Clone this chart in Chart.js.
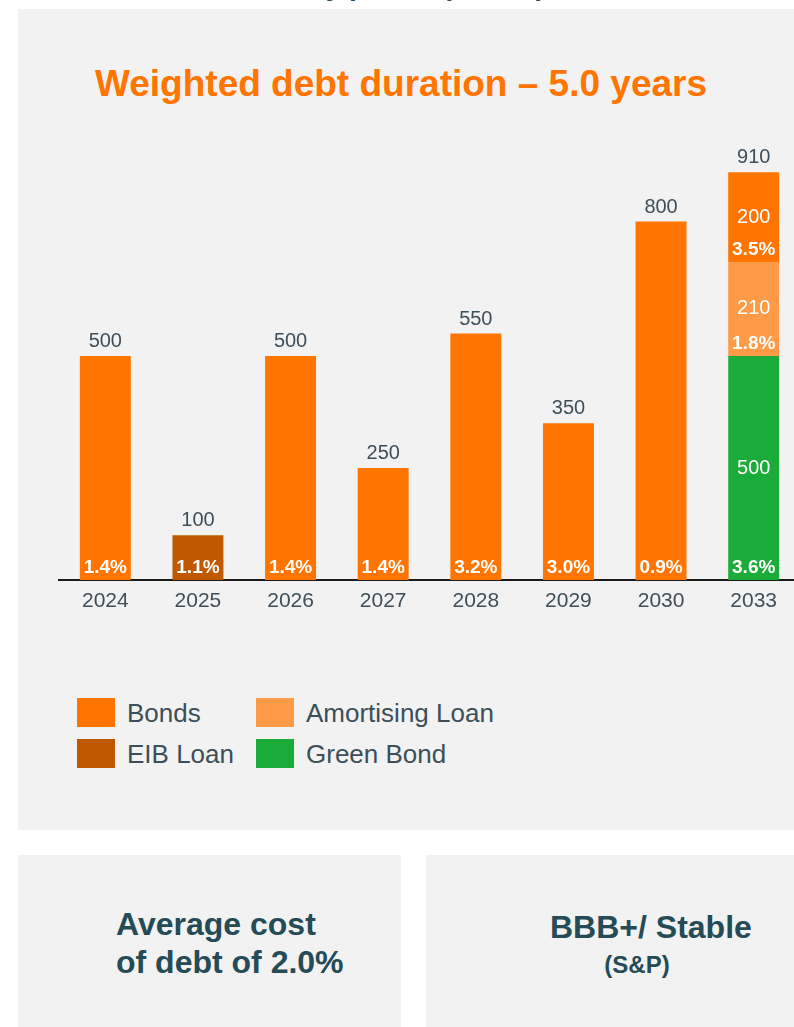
<!DOCTYPE html>
<html>
<head>
<meta charset="utf-8">
<script src="https://cdn.jsdelivr.net/npm/chart.js@4"></script>
<style>
  html, body { margin: 0; padding: 0; }
  body {
    width: 794px; height: 1027px; overflow: hidden; position: relative;
    background: #ffffff; font-family: "Liberation Sans", Arial, sans-serif;
  }
  .heading {
    position: absolute; right: 249px; top: -29px; margin: 0;
    font-size: 28px; line-height: 30px; font-weight: bold; color: #2e4a54; white-space: nowrap;
  }
  .panel { position: absolute; background: #f2f2f2; }
  #mainPanel { left: 18px; top: 9px; width: 800px; height: 821px; }
  #costPanel { left: 18px; top: 855px; width: 383px; height: 190px; }
  #ratingPanel { left: 426px; top: 855px; width: 390px; height: 190px; }
  .title {
    position: absolute; left: 95px; top: 64px; margin: 0; white-space: nowrap;
    font-size: 37px; line-height: 40px; font-weight: bold; color: #ff7500;
  }
  #chartBox { position: absolute; left: 0; top: 110px; width: 810px; height: 518px; }
  #legend {
    position: absolute; left: 77px; top: 698px;
    display: grid; grid-template-columns: 179px auto; row-gap: 12px;
  }
  .legend-item { display: flex; align-items: center; height: 29px; }
  .legend-box { width: 38px; height: 29px; margin-right: 12px; }
  .legend-text { font-size: 26px; line-height: 29px; color: #3c4f58; position: relative; top: 1px; white-space: nowrap; }
  .box-text {
    position: absolute; margin: 0; font-weight: bold; color: #244b56; white-space: nowrap;
  }
  #costText { left: 116px; top: 905px; font-size: 32px; line-height: 38px; }
  #ratingText { left: 550px; top: 908px; width: 200px; text-align: center; font-size: 32px; line-height: 38px; }
  #ratingSub { left: 587px; top: 952px; width: 100px; text-align: center; font-size: 24px; line-height: 26px; }
</style>
</head>
<body>
<p class="heading">Debt maturity profile (EURm)</p>
<div class="panel" id="mainPanel"></div>
<div class="panel" id="costPanel"></div>
<div class="panel" id="ratingPanel"></div>

<p class="title">Weighted debt duration – 5.0 years</p>
<div id="chartBox"><canvas id="maturityChart" width="810" height="518"></canvas></div>
<div id="legend"></div>

<p class="box-text" id="costText">Average cost<br>of debt of 2.0%</p>
<p class="box-text" id="ratingText">BBB+/ Stable</p>
<p class="box-text" id="ratingSub">(S&amp;P)</p>

<script>
// maturities per year, EURm
const years = ['2024', '2025', '2026', '2027', '2028', '2029', '2030', '2033'];
const bonds          = [500, null, 500, 250, 550, 350, 800, 200];
const eibLoan        = [null, 100, null, null, null, null, null, null];
const amortisingLoan = [null, null, null, null, null, null, null, 210];
const greenBond      = [null, null, null, null, null, null, null, 500];

// coupon / interest rate per tranche, %
const bondsRate      = [1.4, null, 1.4, 1.4, 3.2, 3.0, 0.9, 3.5];
const eibRate        = [null, 1.1, null, null, null, null, null, null];
const amortisingRate = [null, null, null, null, null, null, null, 1.8];
const greenRate      = [null, null, null, null, null, null, null, 3.6];

const yMax = 1000;

const COLORS = {
    bonds: '#ff7500',
    eib: '#c05800',
    amortising: '#ff9a46',
    green: '#1bab39',
    label: '#3e4f59'
};

// stacking goes bottom-up in dataset order
const datasets = [
    { label: 'Green Bond', data: greenBond, rates: greenRate, backgroundColor: COLORS.green },
    { label: 'Amortising Loan', data: amortisingLoan, rates: amortisingRate, backgroundColor: COLORS.amortising },
    { label: 'Bonds', data: bonds, rates: bondsRate, backgroundColor: COLORS.bonds },
    { label: 'EIB Loan', data: eibLoan, rates: eibRate, backgroundColor: COLORS.eib }
];
const legendOrder = ['Bonds', 'Amortising Loan', 'EIB Loan', 'Green Bond'];

const FONT = '"Liberation Sans", Arial, sans-serif';

// totals above the stacks, amounts and rates inside the bars
const barLabels = {
    id: 'barLabels',
    afterDatasetsDraw(chart) {
        const ctx = chart.ctx;
        ctx.save();
        ctx.textAlign = 'center';
        years.forEach((year, i) => {
            const parts = [];
            chart.data.datasets.forEach((ds, d) => {
                const v = ds.data[i];
                if (v === null || v === undefined) return;
                parts.push({ value: v, rate: ds.rates[i], bar: chart.getDatasetMeta(d).data[i] });
            });
            if (!parts.length) return;

            const total = parts.reduce((s, p) => s + p.value, 0);
            const top = Math.min(...parts.map(p => p.bar.y));
            const x = parts[0].bar.x;

            ctx.fillStyle = COLORS.label;
            ctx.font = '20px ' + FONT;
            ctx.textBaseline = 'alphabetic';
            ctx.fillText(String(total), x, top - 9);

            parts.forEach(p => {
                ctx.fillStyle = '#ffffff';
                if (parts.length > 1) {
                    ctx.font = '20px ' + FONT;
                    ctx.textBaseline = 'middle';
                    ctx.fillText(String(p.value), x, (p.bar.y + p.bar.base) / 2);
                }
                if (p.rate !== null) {
                    ctx.font = 'bold 19px ' + FONT;
                    ctx.textBaseline = 'alphabetic';
                    ctx.fillText(p.rate.toFixed(1) + '%', x, p.bar.base - 7);
                }
            });
        });
        ctx.restore();
    }
};

const chart = new Chart(document.getElementById('maturityChart'), {
    type: 'bar',
    data: {
        labels: years,
        datasets: datasets.map(ds => ({
            ...ds,
            barPercentage: 0.55,
            categoryPercentage: 1,
            borderWidth: 0
        }))
    },
    options: {
        responsive: false,
        animation: false,
        layout: { padding: { left: 59, right: 10, top: 22, bottom: 0 } },
        plugins: {
            legend: { display: false },
            tooltip: { enabled: false }
        },
        scales: {
            x: {
                stacked: true,
                grid: { display: false, drawTicks: false },
                border: { display: true, color: '#1a1a1a', width: 2 },
                ticks: {
                    color: COLORS.label,
                    padding: 9,
                    font: { family: FONT, size: 21 }
                },
                afterFit(axis) { axis.height = 48; }
            },
            y: {
                stacked: true,
                display: false,
                min: 0,
                max: yMax
            }
        }
    },
    plugins: [barLabels]
});

// two-column legend built from the chart's datasets
document.getElementById('legend').innerHTML = legendOrder.map(name => {
    const ds = chart.data.datasets.find(d => d.label === name);
    return `
        <div class="legend-item">
            <div class="legend-box" style="background: ${ds.backgroundColor}"></div>
            <span class="legend-text">${ds.label}</span>
        </div>`;
}).join('');
</script>
</body>
</html>
